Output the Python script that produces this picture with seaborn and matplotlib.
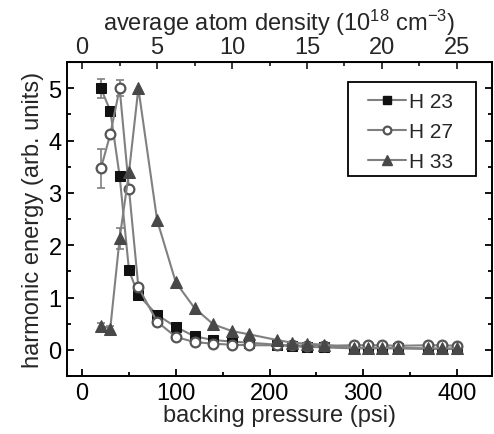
import numpy as np
import pandas as pd
import seaborn as sns
import matplotlib.pyplot as plt
from matplotlib.ticker import MultipleLocator, FixedLocator
from matplotlib.lines import Line2D
from matplotlib.patches import Rectangle

# backing pressure (psi) for every measurement
pressure = [20, 30, 40, 50, 60, 80, 100, 120, 140, 160, 178, 208, 224, 240, 258,
            290, 305, 320, 337, 369, 384, 400]

# harmonic energies (arb. units)
h23 = [5.0, 4.57, 3.32, 1.52, 1.05, 0.67, 0.44, 0.26, 0.19, 0.16, 0.14, 0.10, 0.07,
       0.06, 0.05, 0.03, 0.03, 0.03, 0.03, 0.02, 0.02, 0.02]
h27 = [3.47, 4.12, 5.0, 3.07, 1.20, 0.54, 0.25, 0.15, 0.12, 0.10, 0.09, 0.09, 0.09,
       0.08, 0.08, 0.09, 0.09, 0.09, 0.08, 0.09, 0.09, 0.08]
h33 = [0.46, 0.41, 2.13, 3.40, 5.0, 2.48, 1.29, 0.80, 0.49, 0.36, 0.30, 0.19, 0.14,
       0.12, 0.10, 0.04, 0.04, 0.04, 0.04, 0.03, 0.03, 0.03]

# error bars on the first few points
h23_err = [0.18, 0, 0, 0, 0] + [0] * 17
h27_err = [0.37, 0, 0.15, 0, 0] + [0] * 17
h33_err = [0.05, 0.05, 0.2, 0, 0] + [0] * 17

labels = ['H 23', 'H 27', 'H 33']
density_ticks = [0, 5, 10, 15, 20, 25]

sns.set_style('ticks')
plt.rcParams['font.family'] = ['Liberation Sans', 'DejaVu Sans']
plt.rcParams['mathtext.default'] = 'regular'

fig = plt.figure(figsize=(4.94, 4.35), dpi=100)
ax = fig.add_axes([0.136, 0.133, 0.859, 0.722])

line_col = '#808080'
styles = [
    dict(marker='s', markersize=7, markerfacecolor='#111111', markeredgecolor='#111111'),
    dict(marker='o', markersize=7, markerfacecolor='white', markeredgecolor='#555555',
         markeredgewidth=1.6),
    dict(marker='^', markersize=8.5, markerfacecolor='#484848', markeredgecolor='#484848'),
]

for vals, errs, lab, st in zip([h23, h27, h33], [h23_err, h27_err, h33_err], labels, styles):
    df = pd.DataFrame({'pressure': pressure, 'energy': vals})
    sub = df.iloc[:5]
    e = np.array(errs[:5])
    mask = e > 0
    ax.errorbar(sub['pressure'][mask], sub['energy'][mask], yerr=e[mask], fmt='none',
                ecolor=line_col, elinewidth=1.2, capsize=3, capthick=1.2, zorder=2)
    sns.lineplot(data=df, x='pressure', y='energy', ax=ax, color=line_col, lw=1.5,
                 label=lab, legend=False, zorder=3, **st)

ax.set_xlim(-16, 437)
ax.set_ylim(-0.5, 5.5)
ax.xaxis.set_major_locator(MultipleLocator(100))
ax.xaxis.set_minor_locator(MultipleLocator(50))
ax.yaxis.set_major_locator(MultipleLocator(1))
ax.yaxis.set_minor_locator(MultipleLocator(0.5))
ax.tick_params(which='both', direction='in', right=True, labelsize=17, width=1.3,
               colors='black', pad=4)
ax.tick_params(which='major', length=5)
ax.tick_params(which='minor', length=3)
for s in ax.spines.values():
    s.set_linewidth(1.4)
    s.set_color('black')

ax.set_xlabel('backing pressure (psi)', fontsize=17, labelpad=0)
ax.set_ylabel('harmonic energy (arb. units)', fontsize=17, labelpad=3)

top = ax.secondary_xaxis('top', functions=(lambda p: p / 16.0, lambda d: d * 16.0))
top.xaxis.set_major_locator(FixedLocator(density_ticks))
top.xaxis.set_minor_locator(FixedLocator([2.5, 7.5, 12.5, 17.5, 22.5]))
top.tick_params(which='both', direction='in', labelsize=17, width=1.3, pad=3)
top.tick_params(which='major', length=5)
top.tick_params(which='minor', length=3)
top.set_xlabel('average atom density (10$^{18}$ cm$^{-3}$)', fontsize=17, labelpad=4)

# legend: frame drawn separately so the entries can sit with wide margins
ax.add_patch(Rectangle((0.661, 0.637), 0.302, 0.301, transform=ax.transAxes,
                       fill=False, edgecolor='black', lw=1.3, zorder=5))
leg_styles = [dict(st, markersize=st['markersize'] * 0.8) for st in styles]
handles = [Line2D([0], [0], color=line_col, lw=1.5, **st) for st in leg_styles]
leg = ax.legend(handles, labels, loc='upper left', bbox_to_anchor=(0.708, 0.905),
                fontsize=15, frameon=False, handlelength=1.83, borderpad=0,
                labelspacing=0.53, handletextpad=0.15, borderaxespad=0)

fig.savefig('out.png', dpi=100)
